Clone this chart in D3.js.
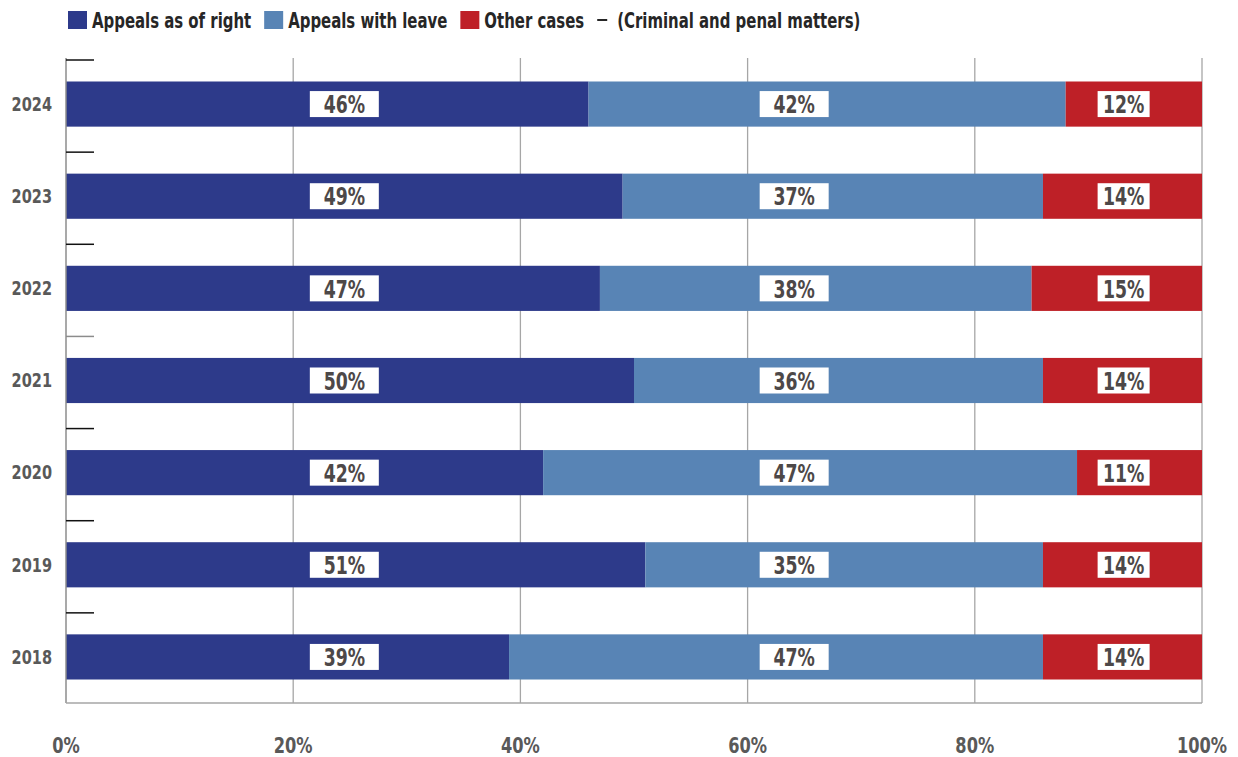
<!DOCTYPE html>
<html>
<head>
<meta charset="utf-8">
<script src="https://cdn.jsdelivr.net/npm/d3@7"></script>
<style>
  html, body { margin: 0; padding: 0; background: #fff; }
  svg { display: block; font-family: "DejaVu Sans Condensed", "DejaVu Sans", sans-serif; font-weight: bold; }
</style>
</head>
<body>
<svg id="chart" width="1238" height="757"></svg>
<script>
// Share of cases by type, criminal and penal matters
const years = ["2024", "2023", "2022", "2021", "2020", "2019", "2018"];
const appealsAsOfRight = [46, 49, 47, 50, 42, 51, 39];
const appealsWithLeave = [42, 37, 38, 36, 47, 35, 47];
const otherCases = [12, 14, 15, 14, 11, 14, 14];
const seriesNames = ["Appeals as of right", "Appeals with leave", "Other cases"];
const seriesColors = ["#2d3a8a", "#5884b5", "#be2027"];
const xTicks = [0, 20, 40, 60, 80, 100];

// label columns (percent position along the axis) and their box widths
const labelColumns = [24.5, 64.1, 93.1];
const labelBoxWidths = [69, 69, 52];

const rows = years.map((y, i) => ({
  year: y,
  [seriesNames[0]]: appealsAsOfRight[i],
  [seriesNames[1]]: appealsWithLeave[i],
  [seriesNames[2]]: otherCases[i]
}));

const svg = d3.select("#chart");
const margin = { left: 66, right: 36, top: 58, bottom: 54 };
const W = 1238, H = 757;

const x = d3.scaleLinear().domain([0, 100]).range([margin.left, W - margin.right]);
const y = d3.scaleBand().domain(years).range([margin.top, H - margin.bottom]).paddingInner(0.51).paddingOuter(0.255);
const yOuter = d3.scaleBand().domain(years).range([margin.top, H - margin.bottom]);

// condensed text helper: horizontal squeeze around the anchor point
function squeezed(parent, px, py, s, txt) {
  const g = parent.append("g").attr("transform", `translate(${px},${py}) scale(${s},1)`);
  return g.append("text").attr("dy", "0.36em").text(txt);
}

// vertical gridlines
svg.append("g").selectAll("line").data(xTicks.slice(1)).join("line")
  .attr("x1", d => x(d)).attr("x2", d => x(d))
  .attr("y1", margin.top).attr("y2", H - margin.bottom)
  .attr("stroke", "#a6a6a6").attr("stroke-width", 1.3);

// stacked bars
const stack = d3.stack().keys(seriesNames)(rows);
const color = d3.scaleOrdinal().domain(seriesNames).range(seriesColors);

const layers = svg.append("g").selectAll("g").data(stack).join("g")
  .attr("fill", d => color(d.key));
layers.selectAll("rect").data(d => d).join("rect")
  .attr("x", d => x(d[0]))
  .attr("width", d => x(d[1]) - x(d[0]))
  .attr("y", d => y(d.data.year))
  .attr("height", y.bandwidth());

// value labels in white boxes
const labels = svg.append("g");
stack.forEach((layer, li) => {
  layer.forEach(d => {
    const cx = x(labelColumns[li]);
    const cy = y(d.data.year) + y.bandwidth() / 2;
    const bw = labelBoxWidths[li];
    labels.append("rect").attr("x", cx - bw / 2).attr("y", cy - 13).attr("width", bw).attr("height", 26).attr("fill", "#fff");
    squeezed(labels, cx, cy + 0.5, 0.8, (d[1] - d[0]) + "%")
      .attr("text-anchor", "middle").attr("font-size", 24).attr("fill", "#4d4848");
  });
});

// axis lines
svg.append("line").attr("x1", x(0)).attr("x2", x(0)).attr("y1", margin.top).attr("y2", H - margin.bottom)
  .attr("stroke", "#8c8c8c").attr("stroke-width", 1.5);
svg.append("line").attr("x1", x(0)).attr("x2", x(100)).attr("y1", H - margin.bottom).attr("y2", H - margin.bottom)
  .attr("stroke", "#a6a6a6").attr("stroke-width", 1.3);

// category separators on the left axis
svg.append("g").selectAll("line").data(years).join("line")
  .attr("x1", x(0)).attr("x2", x(0) + 28)
  .attr("y1", d => yOuter(d) + 2).attr("y2", d => yOuter(d) + 2)
  .attr("stroke", (d, i) => i === 3 ? "#8c8c8c" : "#111").attr("stroke-width", 1.5);

// year labels
const yearG = svg.append("g");
years.forEach(d => {
  squeezed(yearG, 52, y(d) + y.bandwidth() / 2, 0.85, d)
    .attr("text-anchor", "end").attr("font-size", 19).attr("fill", "#595959");
});

// x tick labels
const tickG = svg.append("g");
xTicks.forEach(d => {
  squeezed(tickG, x(d), 745, 0.86, d + "%")
    .attr("text-anchor", "middle").attr("font-size", 21).attr("fill", "#595959");
});

// legend
const legend = svg.append("g");
const ls = 0.79;
let lx = 68;
seriesNames.forEach((name, i) => {
  legend.append("rect").attr("x", lx).attr("y", 11).attr("width", 19).attr("height", 18).attr("fill", seriesColors[i]);
  const t = squeezed(legend, lx + 24, 20, ls, name).attr("font-size", 21).attr("fill", "#262626");
  lx += 24 + t.node().getComputedTextLength() * ls + 13;
});
legend.append("line").attr("x1", lx).attr("x2", lx + 10).attr("y1", 20).attr("y2", 20)
  .attr("stroke", "#262626").attr("stroke-width", 2);
squeezed(legend, lx + 20, 20, ls, "(Criminal and penal matters)").attr("font-size", 21).attr("fill", "#262626");
</script>
</body>
</html>
